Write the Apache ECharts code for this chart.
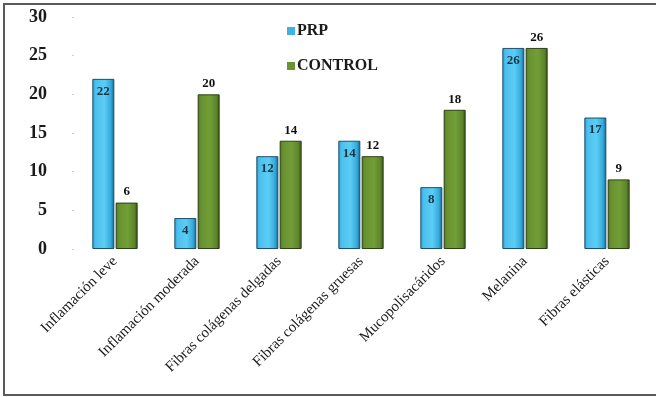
<!DOCTYPE html>
<html>
<head>
<meta charset="utf-8">
<script src="https://cdn.jsdelivr.net/npm/echarts@6/dist/echarts.min.js"></script>
<style>
  html, body { margin: 0; padding: 0; background: #fff; }
  #chart { width: 656px; height: 397px; }
</style>
</head>
<body>
<div id="chart"></div>
<script>
// Categories and values
const categories = [
  'Inflamación leve',
  'Inflamación moderada',
  'Fibras colágenas delgadas',
  'Fibras colágenas gruesas',
  'Mucopolisacáridos',
  'Melanina',
  'Fibras elásticas'
];
const prpValues = [22, 4, 12, 14, 8, 26, 17];
const controlValues = [6, 20, 14, 12, 18, 26, 9];
const yTicks = [0, 5, 10, 15, 20, 25, 30];

const serif = '"Liberation Serif", "DejaVu Serif", serif';

const blueFill = new echarts.graphic.LinearGradient(0, 0, 1, 0, [
  { offset: 0, color: '#2b9fd2' },
  { offset: 0.15, color: '#4cc0ee' },
  { offset: 0.55, color: '#5ccdf4' },
  { offset: 0.85, color: '#34a9da' },
  { offset: 1, color: '#145f86' }
]);
const greenFill = new echarts.graphic.LinearGradient(0, 0, 1, 0, [
  { offset: 0, color: '#4f7424' },
  { offset: 0.15, color: '#68922f' },
  { offset: 0.55, color: '#729e38' },
  { offset: 0.85, color: '#5d852a' },
  { offset: 1, color: '#34501a' }
]);

const chart = echarts.init(document.getElementById('chart'), null, { renderer: 'canvas' });
chart.setOption({
  backgroundColor: '#ffffff',
  animation: false,
  graphic: [{
    type: 'rect',
    shape: { x: 4, y: 4, width: 660, height: 391 },
    style: { fill: 'none', stroke: '#5a5a5a', lineWidth: 2 },
    silent: true,
    z: 100
  }],
  legend: {
    orient: 'vertical',
    left: 282,
    top: 18,
    icon: 'rect',
    itemWidth: 8,
    itemHeight: 8,
    itemGap: 19,
    textStyle: { fontFamily: serif, fontWeight: 'bold', fontSize: 16, color: '#1a1a1a', padding: [0, 0, 0, -3] },
    data: [
      { name: 'PRP', itemStyle: { color: '#3fb4e4', borderWidth: 0 } },
      { name: 'CONTROL', itemStyle: { color: '#6a9432', borderWidth: 0 } }
    ]
  },
  grid: { left: 74, right: 8, top: 17, bottom: 148, containLabel: false },
  xAxis: {
    type: 'category',
    data: categories,
    axisLine: { show: false },
    axisTick: { show: false },
    axisLabel: {
      rotate: 45,
      margin: 10,
      interval: 0,
      fontFamily: serif,
      fontSize: 15,
      color: '#1a1a1a'
    }
  },
  yAxis: {
    type: 'value',
    min: yTicks[0],
    max: yTicks[yTicks.length - 1],
    interval: 5,
    splitLine: { show: false },
    axisLine: { show: false },
    axisTick: { show: true, length: 2, lineStyle: { color: '#cccccc' } },
    axisLabel: {
      margin: 27,
      fontFamily: serif,
      fontWeight: 'bold',
      fontSize: 18,
      color: '#1a1a1a'
    }
  },
  series: [
    {
      name: 'PRP',
      type: 'bar',
      data: prpValues,
      barWidth: 22,
      barGap: '6%',
      itemStyle: { color: blueFill, borderColor: '#1c4f6c', borderWidth: 1 },
      label: {
        show: true,
        position: 'insideTop',
        distance: 6,
        fontFamily: serif,
        fontWeight: 'bold',
        fontSize: 13,
        color: '#163646'
      }
    },
    {
      name: 'CONTROL',
      type: 'bar',
      data: controlValues,
      barWidth: 22,
      itemStyle: { color: greenFill, borderColor: '#2c4015', borderWidth: 1 },
      label: {
        show: true,
        position: 'top',
        distance: 4,
        fontFamily: serif,
        fontWeight: 'bold',
        fontSize: 13,
        color: '#111111'
      }
    }
  ]
});
</script>
</body>
</html>
